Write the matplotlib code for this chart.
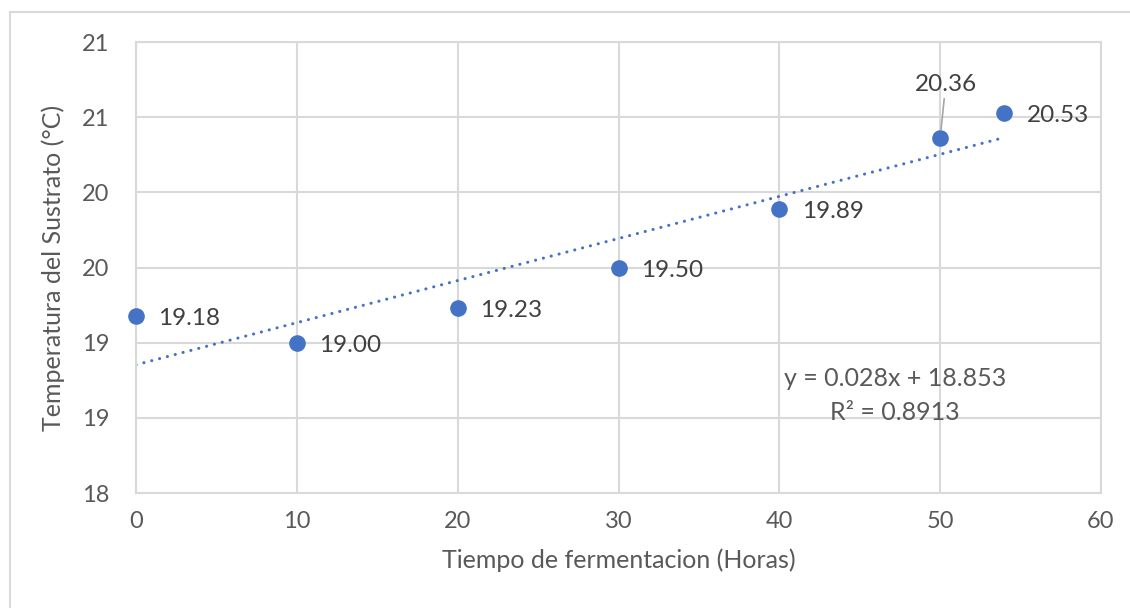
import matplotlib.pyplot as plt
from matplotlib.patches import Rectangle

# fermentation time (h) and substrate temperature (°C)
horas = [0, 10, 20, 30, 40, 50, 54]
temperatura = [19.18, 19.00, 19.23, 19.50, 19.89, 20.36, 20.53]

# linear trend reported on the chart
pendiente = 0.028
intercepto = 18.853
r2 = 0.8913

y_ticks = [18.0, 18.5, 19.0, 19.5, 20.0, 20.5, 21.0]
y_tick_labels = ["18", "19", "19", "20", "20", "21", "21"]
x_ticks = [0, 10, 20, 30, 40, 50, 60]

AZUL = "#4472C4"
GRIS = "#D9D9D9"
TXT = "#595959"
ETQ = "#404040"

plt.rcParams["font.family"] = ["Lato", "DejaVu Sans"]

fig = plt.figure(figsize=(11.3, 6.08), dpi=100)
ax = fig.add_axes([136 / 1130, 1 - 493 / 608, (1101 - 136) / 1130, (493 - 42) / 608])

# chart-area border (right and bottom edges run off the canvas)
fig.patches.append(Rectangle((10 / 1130, -0.1), 1.2, 1 - 12 / 608 + 0.1,
                             transform=fig.transFigure, fill=False,
                             edgecolor=GRIS, linewidth=1.5))

ax.set_xlim(0, 60)
ax.set_ylim(18, 21)
ax.set_xticks(x_ticks)
ax.set_yticks(y_ticks)
ax.set_yticklabels(y_tick_labels)
ax.grid(True, color=GRIS, linewidth=1.5)
ax.set_axisbelow(True)
for s in ax.spines.values():
    s.set_color(GRIS)
    s.set_linewidth(1.5)
ax.tick_params(length=0, labelsize=17, labelcolor=TXT)
ax.tick_params(axis="x", pad=13)
ax.tick_params(axis="y", pad=19)

# trend line
xt = [horas[0], horas[-1]]
yt = [intercepto + pendiente * x for x in xt]
ax.plot(xt, yt, color=AZUL, linewidth=2.2, linestyle=(0, (0.05, 2.6)),
        dash_capstyle="round", zorder=2)

ax.scatter(horas, temperatura, s=120, color=AZUL, zorder=3, clip_on=False)

for x, y in zip(horas, temperatura):
    if x == 50:
        ax.annotate(f"{y:.2f}", xy=(x, y), xytext=(4, 39), textcoords="offset points",
                    ha="center", va="center", fontsize=17.5, color=ETQ,
                    arrowprops=dict(arrowstyle="-", color="#A6A6A6", lw=1.2,
                                    shrinkA=1, shrinkB=6))
    else:
        ax.annotate(f"{y:.2f}", xy=(x, y), xytext=(16, -2), textcoords="offset points",
                    ha="left", va="center", fontsize=17.5, color=ETQ)

ax.text(47.2, 18.65, f"y = {pendiente:.3f}x + {intercepto:.3f}\nR² = {r2:.4f}",
        ha="center", va="center", fontsize=18, color=TXT, linespacing=1.55)

ax.set_xlabel("Tiempo de fermentacion (Horas)", fontsize=18, color=TXT, labelpad=12)
ax.set_ylabel("Temperatura del Sustrato (°C)", fontsize=18, color=TXT, labelpad=12)

fig.savefig("out.png", dpi=100)
